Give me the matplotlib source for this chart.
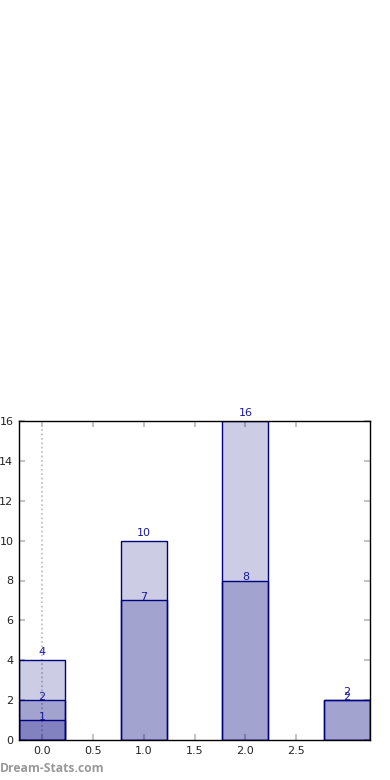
import matplotlib
matplotlib.use("Agg")
import matplotlib.pyplot as plt
import numpy as np

# Data
categories = [0, 1, 2, 3]
series_total = [4, 10, 16, 2]
series_mid = [2, 7, 8, 2]
series_low_cats = [0]
series_low = [1]
x_ticks = [0.0, 0.5, 1.0, 1.5, 2.0, 2.5]
x_tick_labels = ["0.0", "0.5", "1.0", "1.5", "2.0", "2.5"]
y_ticks = [0, 2, 4, 6, 8, 10, 12, 14, 16]

W, H = 390, 780
fig = plt.figure(figsize=(W / 100, H / 100), dpi=100)
ax = fig.add_axes([19 / W, 1 - 740 / H, (370 - 19) / W, (740 - 421) / H])

width = 0.45
fc = (0, 0, 0.5, 0.2)
ec = "navy"
lab_col = "#1a1a99"

ax.axvline(0, color="#b8b8b8", linestyle=":", linewidth=1.2, zorder=0.5)

for vals, cats, off in [(series_total, categories, 3),
                        (series_mid, categories, -2),
                        (series_low, series_low_cats, -2)]:
    ax.bar(cats, vals, width=width, facecolor=fc, edgecolor=ec,
           linewidth=1, zorder=2)
    for c, v in zip(cats, vals):
        ax.annotate(str(v), (c, v), xytext=(0, off), textcoords="offset pixels",
                    ha="center", va="bottom", color=lab_col, fontsize=8,
                    zorder=5)

ax.set_xlim(categories[0] - width / 2, categories[-1] + width / 2)
ax.set_ylim(0, max(series_total))
ax.set_xticks(x_ticks)
ax.set_xticklabels(x_tick_labels)
ax.set_yticks(y_ticks)
ax.tick_params(direction="in", color="#c4c4c4", length=4, width=1.5,
               labelsize=8, labelcolor="#222222", top=True, right=True, pad=4)
for s in ax.spines.values():
    s.set_color("black")
    s.set_linewidth(1)

fig.text(0.0, 1 - 768 / H, "Dream-Stats.com", color="#999999", fontsize=8.7,
         fontweight="bold", family="Open Sans", ha="left", va="center")

fig.savefig("out.png", dpi=100)
